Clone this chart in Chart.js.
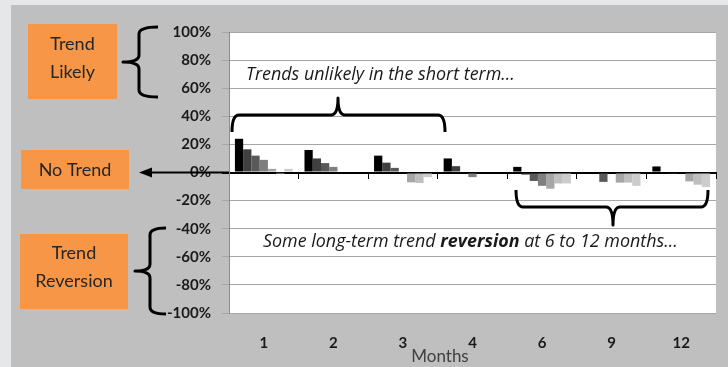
<!DOCTYPE html>
<html>
<head>
<meta charset="utf-8">
<script src="https://cdn.jsdelivr.net/npm/chart.js@4.4.0/dist/chart.umd.min.js"></script>
<style>
  body { margin: 0; background: #e6e7e9; }
  canvas { display: block; }
</style>
</head>
<body>
<canvas id="trendChart" width="728" height="367"></canvas>
<script>
// Holding period (months) on the x axis
const months = ["1", "2", "3", "4", "6", "9", "12"];

// Seven series, darkest to lightest, values in %
const series1 = [24, 16, 12, 10, 4, 0, 4.3];
const series2 = [16.5, 10, 7, 4.5, -1.5, 0, 0];
const series3 = [12, 6.7, 3.3, 0, -6, -6.7, -0.5];
const series4 = [9, 4, 0, -3.3, -9.5, 0, 0];
const series5 = [2.6, 0, -7, 0, -11.5, -7.2, -6.3];
const series6 = [-0.3, 0, -7.5, 0, -7.8, -7.2, -8.7];
const series7 = [2.6, 0, -3.3, 0, -7.8, -9.5, -10.4];

const allSeries = [series1, series2, series3, series4, series5, series6, series7];
const seriesColors = ["#000000", "#404040", "#595959", "#7f7f7f", "#a6a6a6", "#bfbfbf", "#cccccc"];

const FONT = "Lato";
const NOTE_FONT = "'Open Sans'";

function vBrace(ctx, xs, xt, xp, y1, y2) {
  const ym = (y1 + y2) / 2, r = 7;
  ctx.beginPath();
  ctx.moveTo(xt, y1);
  ctx.quadraticCurveTo(xs, y1, xs, y1 + r);
  ctx.lineTo(xs, ym - r);
  ctx.quadraticCurveTo(xs, ym, xp, ym);
  ctx.quadraticCurveTo(xs, ym, xs, ym + r);
  ctx.lineTo(xs, y2 - r);
  ctx.quadraticCurveTo(xs, y2, xt, y2);
  ctx.stroke();
}

function hBrace(ctx, x1, x2, ys, yt, yp, xm) {
  ctx.beginPath();
  ctx.moveTo(x1, yt);
  ctx.quadraticCurveTo(x1, ys, x1 + 7, ys);
  ctx.lineTo(xm - 7, ys);
  ctx.quadraticCurveTo(xm, ys, xm, yp);
  ctx.quadraticCurveTo(xm, ys, xm + 7, ys);
  ctx.lineTo(x2 - 7, ys);
  ctx.quadraticCurveTo(x2, ys, x2, yt);
  ctx.stroke();
}

// size a note font so the line spans the wanted width
function fitSize(ctx, parts, width) {
  let w = 0;
  parts.forEach(([f, t]) => {
    ctx.font = f + "20px " + NOTE_FONT;
    w += ctx.measureText(t).width;
  });
  return 20 * width / w;
}

function drawNote(ctx, parts, x, y, width) {
  const size = fitSize(ctx, parts, width);
  parts.forEach(([f, t]) => {
    ctx.font = f + size.toFixed(2) + "px " + NOTE_FONT;
    ctx.fillText(t, x, y);
    x += ctx.measureText(t).width;
  });
}

const annotations = {
  id: "annotations",
  beforeDraw(chart) {
    const { ctx, chartArea: a } = chart;
    ctx.save();
    ctx.fillStyle = "#e6e7e9";
    ctx.fillRect(0, 0, chart.width, chart.height);
    ctx.fillStyle = "#bfbfbf";
    ctx.fillRect(11, 5, chart.width - 11, chart.height - 5);
    ctx.fillStyle = "#ffffff";
    ctx.fillRect(a.left, a.top, a.right - a.left, a.bottom - a.top);
    ctx.restore();
  },
  afterDraw(chart) {
    const { ctx, chartArea: a } = chart;
    const y0 = chart.scales.y.getPixelForValue(0);
    ctx.save();

    // orange boxes
    ctx.fillStyle = "#f79646";
    ctx.fillRect(28, 24, 89, 75);
    ctx.fillRect(21, 150, 108, 39);
    ctx.fillRect(20, 234, 108, 75);
    ctx.fillStyle = "#262626";
    ctx.font = "18px " + FONT;
    ctx.textAlign = "center";
    ctx.textBaseline = "middle";
    ctx.fillText("Trend", 72.5, 44);
    ctx.fillText("Likely", 72.5, 72);
    ctx.fillText("No Trend", 75, 170);
    ctx.fillText("Trend", 74, 253);
    ctx.fillText("Reversion", 74, 281);

    // braces
    ctx.strokeStyle = "#000";
    ctx.lineWidth = 3;
    ctx.lineJoin = "round";
    vBrace(ctx, 139, 158, 123, 27, 97);
    vBrace(ctx, 150, 166, 135, 228, 314);
    hBrace(ctx, 232, 445, 115, 132, 98, 338);
    hBrace(ctx, 516, 708, 207, 190, 225, 613);

    // arrow to "No Trend"
    ctx.lineWidth = 2;
    ctx.beginPath();
    ctx.moveTo(a.left, y0);
    ctx.lineTo(150, y0);
    ctx.stroke();
    ctx.fillStyle = "#000";
    ctx.beginPath();
    ctx.moveTo(139, y0);
    ctx.lineTo(152, y0 - 5);
    ctx.lineTo(152, y0 + 5);
    ctx.closePath();
    ctx.fill();

    // italic notes
    ctx.fillStyle = "#1a1a1a";
    ctx.textAlign = "left";
    drawNote(ctx, [["italic ", "Trends unlikely in the short term\u2026"]], 246, 75, 269);
    drawNote(ctx, [
      ["italic ", "Some long-term trend "],
      ["italic bold ", "reversion"],
      ["italic ", " at 6 to 12 months\u2026"]
    ], 263, 242, 415);

    // axis title
    ctx.fillStyle = "#404040";
    ctx.textAlign = "center";
    ctx.font = "17px " + FONT;
    ctx.fillText("Months", 440, 357);
    ctx.restore();
  }
};

new Chart(document.getElementById("trendChart"), {
  type: "bar",
  data: {
    labels: months,
    datasets: allSeries.map((vals, i) => ({
      label: "Series " + (i + 1),
      data: vals,
      backgroundColor: seriesColors[i],
      categoryPercentage: 0.83,
      barPercentage: 1,
      xAxisID: "x",
      yAxisID: "y"
    }))
  },
  options: {
    responsive: false,
    animation: false,
    layout: { padding: { top: 32, right: 12, left: 0, bottom: 0 } },
    plugins: { legend: { display: false }, tooltip: { enabled: false } },
    scales: {
      x: {
        grid: { display: false },
        border: { display: false },
        ticks: { font: { family: FONT, size: 15, weight: "bold" }, color: "#1a1a1a", padding: 13 },
        afterFit(s) { s.height = 54; }
      },
      xZero: {
        axis: "x",
        type: "category",
        position: { y: 0 },
        offset: true,
        grid: { offset: true, drawOnChartArea: false, tickLength: 5, color: "#000" },
        ticks: { display: false },
        border: { color: "#000", width: 2 },
        afterFit(s) { s.height = 0; }
      },
      y: {
        min: -100,
        max: 100,
        ticks: {
          stepSize: 20,
          padding: 11,
          color: "#1a1a1a",
          font: { family: FONT, size: 15, weight: "bold" },
          callback: v => v + "%"
        },
        grid: {
          color: c => (c.tick && c.tick.value === 0 ? "#000" : "#a6a6a6"),
          lineWidth: c => (c.tick && c.tick.value === 0 ? 2 : 1),
          tickLength: 7
        },
        border: { color: "#8c8c8c", width: 1 },
        afterFit(s) { s.width = 229; }
      }
    }
  },
  plugins: [annotations]
});
</script>
</body>
</html>
